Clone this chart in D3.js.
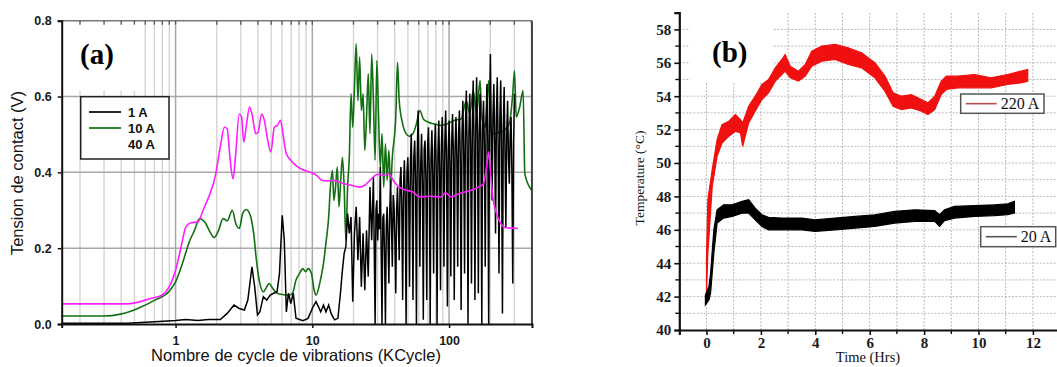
<!DOCTYPE html>
<html><head><meta charset="utf-8">
<script src="https://cdn.jsdelivr.net/npm/d3@7"></script>
<style>
html,body{margin:0;padding:0;background:#fff;}
svg{display:block;}
</style></head>
<body>
<svg id="chart" width="1057" height="367"></svg>
<script>
// ---------- Panel (a) data: Tension de contact (V) vs KCycle ----------
const aXTicks = [1, 10, 100];
const aYTicks = [0.0, 0.2, 0.4, 0.6, 0.8];
const aLegend = ["1 A", "10 A", "40 A"];

const magX = [0.146,0.444,0.667,0.793,0.891,1.0,1.091,1.19,1.298,1.457,1.59,1.785,1.946,2.123,2.276,2.385,2.497,2.631,2.740,2.921,3.041,3.148,3.280,3.475,3.640,3.857,4.017,4.256,4.458,4.723,4.976,5.273,5.555,5.852,6.095,6.458,6.963,7.596,8.527,9.575,10.75,11.73,12.79,13.95,15.22,17.09,19.19,22.18,24.19,26.39,28.79,30.51,33.28,36.30,39.59,43.19,48.50,54.46,61.15,72.76,86.58,94.44,103.0,115.6,129.8,145.8,163.7,178.6,189.2,194.8,200.5,208.8,218.7,238.6,260.2,318.8];
const magY = [0.053,0.053,0.068,0.076,0.096,0.142,0.199,0.256,0.267,0.269,0.300,0.344,0.388,0.467,0.519,0.515,0.440,0.383,0.440,0.554,0.546,0.480,0.519,0.572,0.550,0.502,0.506,0.554,0.537,0.484,0.454,0.519,0.524,0.537,0.502,0.449,0.432,0.418,0.407,0.401,0.392,0.379,0.377,0.379,0.376,0.370,0.366,0.361,0.366,0.379,0.392,0.395,0.392,0.396,0.375,0.361,0.353,0.348,0.335,0.337,0.335,0.346,0.335,0.342,0.348,0.353,0.361,0.370,0.423,0.454,0.405,0.335,0.300,0.265,0.254,0.252];

const grnX = [0.146,0.296,0.396,0.529,0.706,0.891,1.0,1.123,1.261,1.375,1.5,1.636,1.785,1.913,2.063,2.224,2.385,2.601,2.756,2.921,3.094,3.280,3.516,3.725,3.902,4.135,4.381,4.642,4.834,5.123,5.523,6.025,6.764,7.168,7.596,8.049,8.527,8.931,9.302,9.856,10.32,10.63,11.39,12.07,12.65,13.17,13.56,14.04,14.37,14.78,15.22,15.67,16.13,16.60,17.09,17.59,18.11,18.64,19.19,19.75,20.33,20.93,21.55,22.18,22.83,23.50,24.19,24.91,25.64,26.39,27.17,27.97,28.79,29.63,30.51,31.40,32.33,33.28,34.25,35.26,36.30,37.37,38.46,40.76,41.96,43.19,45.77,48.50,51.39,54.46,57.71,61.15,64.80,70.68,77.10,86.58,97.22,109.1,122.5,133.7,141.6,150.1,159.0,168.5,173.5,183.8,194.8,200.5,212.5,231.7,252.8,275.8,292.2,300.8,309.7,328.2,347.8,358.0,401.7];
const grnY = [0.021,0.021,0.026,0.041,0.063,0.085,0.111,0.160,0.217,0.247,0.278,0.269,0.243,0.228,0.247,0.278,0.272,0.300,0.265,0.252,0.291,0.302,0.287,0.239,0.168,0.107,0.085,0.098,0.107,0.094,0.081,0.078,0.076,0.081,0.116,0.133,0.146,0.138,0.146,0.133,0.089,0.076,0.111,0.160,0.221,0.282,0.361,0.405,0.326,0.361,0.414,0.309,0.379,0.440,0.361,0.221,0.361,0.440,0.607,0.519,0.625,0.739,0.589,0.704,0.563,0.607,0.458,0.546,0.660,0.502,0.712,0.589,0.432,0.695,0.546,0.414,0.502,0.361,0.475,0.379,0.458,0.361,0.440,0.546,0.690,0.589,0.528,0.502,0.495,0.502,0.528,0.563,0.541,0.532,0.528,0.524,0.528,0.537,0.541,0.589,0.554,0.616,0.554,0.642,0.546,0.519,0.642,0.511,0.502,0.506,0.511,0.528,0.607,0.668,0.546,0.572,0.616,0.396,0.353];

const blkX = [0.146,0.444,0.706,1.0,1.19,1.457,1.734,2.123,2.385,2.677,2.921,3.185,3.376,3.619,3.790,3.970,4.135,4.381,4.642,4.919,5.212,5.523,5.751,6.025,6.237,6.458,6.686,6.963,7.252,7.596,8.527,9.302,10.15,10.63,11.07,11.52,12.07,12.57,13.17,13.71,14.53,15.39,16.13,16.60,17.09,17.59,18.11,18.64,19.19,19.75,20.33,20.93,21.55,22.18,22.83,23.50,24.19,24.91,25.64,26.39,27.17,27.97,
  28.79,29.21,29.63,30.07,30.51,30.95,31.40,31.86,32.33,32.80,33.28,33.76,34.25,34.75,35.26,35.77,36.30,36.83,37.37,37.91,38.46,39.02,39.59,40.17,40.76,41.35,41.96,42.57,43.19,43.82,44.46,45.11,45.77,46.43,47.11,47.80,48.50,49.20,49.92,50.65,51.39,52.14,52.90,53.67,54.46,55.25,56.06,56.88,57.71,58.55,59.40,60.27,61.15,62.04,62.95,63.87,64.80,65.75,66.70,67.68,68.66,69.66,70.68,71.71,72.76,73.82,74.90,76.00,77.10,78.23,79.37,80.53,81.70,82.90,84.10,85.33,86.58,87.84,89.12,90.42,91.74,93.08,94.44,95.82,97.22,98.65,100.1,101.5,103.0,104.5,106.0,107.6,109.1,110.7,112.3,114.0,115.6,117.3,119.0,120.7,122.5,124.3,126.1,128.0,129.8,131.7,133.7,135.6,137.6,139.6,141.6,143.7,145.8,148.0,150.1,152.3,154.5,156.8,159.0,161.4,163.7,166.1,168.5,171.0,173.5,176.0,178.6,181.2,183.8,186.5,189.2,192.0,194.8,197.6,200.5,203.4,206.4,209.4,212.5,215.6,218.7,221.9,225.1,228.4,231.7,235.1,238.6,242.1,245.6,249.2,252.8,256.5,260.2,264.0,267.9,271.8,275.8,279.8,283.9,288.0,292.2,296.5,300.8];
const blkY = [0.002,0.002,0.006,0.009,0.012,0.009,0.012,0.012,0.028,0.050,0.041,0.037,0.063,0.151,0.098,0.024,0.032,0.072,0.063,0.076,0.081,0.085,0.133,0.287,0.221,0.032,0.081,0.054,0.081,0.015,0.009,0.015,0.046,0.059,0.046,0.032,0.050,0.032,0.050,0.028,0.011,0.015,0.089,0.142,0.186,0.204,0.291,0.239,0.282,0.059,0.239,0.309,0.168,0.282,0.098,0.239,0.089,0.247,0.125,0.361,0.221,0.388,
  0,0.30,0.326,0.22,0.291,0.25,0.414,0.20,0,0.28,0.291,0.18,0,0.26,0.309,0.22,0.107,0.30,0.379,0.26,0.151,0.34,0.309,0.22,0.081,0.30,0.361,0.27,0.168,0.38,0.414,0.30,0.063,0.36,0.432,0.33,0,0.40,0.440,0.35,0.098,0.42,0.502,0.36,0.063,0.44,0.484,0.38,0,0.45,0.563,0.40,0.151,0.42,0.502,0.37,0.011,0.46,0.484,0.38,0.063,0.47,0.519,0.40,0,0.44,0.511,0.39,0.133,0.46,0.528,0.41,0,0.45,0.537,0.40,0.089,0.47,0.546,0.42,0.151,0.48,0.563,0.43,0.046,0.46,0.537,0.42,0.125,0.48,0.554,0.44,0.063,0.47,0.546,0.43,0.151,0.50,0.563,0.44,0.037,0.50,0.589,0.45,0.133,0.52,0.616,0.46,0,0.50,0.607,0.47,0.107,0.53,0.642,0.48,0.063,0.52,0.651,0.49,0.081,0.50,0.607,0.46,0,0.52,0.589,0.47,0.151,0.53,0.633,0.48,0,0.55,0.712,0.50,0.326,0.55,0.633,0.48,0.239,0.55,0.651,0.47,0.133,0.54,0.642,0.46,0.028,0.52,0.625,0.45,0.256,0.50,0.589,0.44,0.370,0.50,0.546,0.40,0.107,0.48,0.607];

// ---------- Panel (b) data: Temperature (°C) vs Time (Hrs) ----------
const bXTicks = [0, 2, 4, 6, 8, 10, 12];
const bYTicks = [40, 42, 44, 46, 48, 50, 52, 54, 56, 58];
const bLegend = ["220 A", "20 A"];

const redT  = [0,0.05,0.21,0.39,0.57,0.82,1.06,1.25,1.33,1.55,1.79,2.04,2.28,2.53,2.77,2.89,3.08,3.38,3.63,3.87,4.24,4.73,5.21,5.70,6.19,6.56,6.86,7.17,7.53,7.90,8.14,8.39,8.63,8.82,9.24,9.85,10.46,11.07,11.56,11.81];
const redHi = [44.4,47.8,49.6,51.4,52.3,52.5,52.9,52.6,52.4,53.4,54.0,54.7,55.0,55.7,56.2,56.5,55.8,55.5,55.9,56.7,57.0,57.1,56.9,56.6,56.0,55.2,54.2,54.0,54.1,53.8,53.6,54.0,54.9,55.2,55.2,55.3,55.1,55.3,55.5,55.6];
const redLo = [42.2,44.6,48.6,50.4,51.2,51.6,51.9,51.8,51.0,52.4,53.1,53.8,54.2,54.9,55.3,55.5,55.1,54.9,55.2,55.8,56.1,56.2,55.9,55.7,55.1,54.3,53.4,53.2,53.3,53.1,52.9,53.2,54.1,54.4,54.5,54.5,54.5,54.7,54.8,54.9];

const blkT  = [-0.04,0.09,0.15,0.27,0.39,0.63,0.94,1.31,1.55,1.79,2.04,2.28,2.77,3.50,3.99,4.73,5.46,6.19,6.92,7.66,8.39,8.57,8.75,9.12,9.85,10.59,11.07,11.32];
const blkHi = [42.1,42.6,43.4,46.0,47.2,47.5,47.5,47.7,47.8,47.3,46.9,46.75,46.7,46.7,46.6,46.7,46.8,46.9,47.1,47.2,47.15,46.9,47.2,47.4,47.45,47.5,47.55,47.7];
const blkLo = [41.5,41.8,42.2,44.6,46.4,46.7,46.8,47.0,47.0,46.6,46.2,46.0,46.0,46.0,45.9,46.0,46.1,46.2,46.4,46.5,46.5,46.2,46.55,46.7,46.8,46.85,46.9,47.0];

// ================== drawing ==================
const svg = d3.select("#chart");
const SANS = "'Liberation Sans', Arial, sans-serif";
const SERIF = "'Liberation Serif', 'Times New Roman', serif";

// ----- Panel (a) -----
const ax = d3.scaleLog().domain([0.147, 404]).range([61.7, 532]);
const ay = d3.scaleLinear().domain([0, 0.8]).range([324, 20.7]);
const ga = svg.append("g");

const minorX = [];
[0.1, 1, 10, 100].forEach(d => { for (let k = 2; k <= 9; k++) { const v = d * k; if (v > 0.147 && v < 404) minorX.push(v); } });
ga.append("g").selectAll("line").data(minorX).join("line")
  .attr("x1", d => ax(d)).attr("x2", d => ax(d)).attr("y1", ay(0)).attr("y2", ay(0.8))
  .attr("stroke", "#d4d4d4").attr("stroke-width", 1.4);
ga.append("g").selectAll("line").data(aXTicks).join("line")
  .attr("x1", d => ax(d)).attr("x2", d => ax(d)).attr("y1", ay(0)).attr("y2", ay(0.8))
  .attr("stroke", "#a8a8a8").attr("stroke-width", 1.5);
ga.append("g").selectAll("line").data([0.2, 0.4, 0.6]).join("line")
  .attr("x1", ax.range()[0]).attr("x2", ax.range()[1]).attr("y1", d => ay(d)).attr("y2", d => ay(d))
  .attr("stroke", "#a8a8a8").attr("stroke-width", 1.5);

ga.append("rect").attr("x", ax.range()[0] + 1).attr("y", ay(0.8) + 2).attr("width", 78).attr("height", 68).attr("fill", "#fff");
ga.append("text").attr("x", 80).attr("y", 64).text("(a)")
  .attr("font-family", SERIF).attr("font-weight", "bold").attr("font-size", 29).attr("fill", "#000");

const lineA = d3.line().x(d => ax(d[0])).y(d => ay(d[1]));
const lineSmooth = d3.line().x(d => ax(d[0])).y(d => ay(d[1])).curve(d3.curveMonotoneX);
ga.append("path").datum(d3.zip(grnX, grnY)).attr("d", lineSmooth).attr("fill", "none")
  .attr("stroke", "#127012").attr("stroke-width", 1.6);
ga.append("path").datum(d3.zip(blkX, blkY)).attr("d", lineA).attr("fill", "none")
  .attr("stroke", "#000").attr("stroke-width", 1.5);
ga.append("path").datum(d3.zip(magX, magY)).attr("d", lineSmooth).attr("fill", "none")
  .attr("stroke", "#ff1eff").attr("stroke-width", 1.6);

ga.append("line").attr("x1", ax.range()[0]).attr("x2", ax.range()[1]).attr("y1", ay(0.8)).attr("y2", ay(0.8)).attr("stroke", "#777").attr("stroke-width", 1.5);
ga.append("line").attr("x1", ax.range()[1]).attr("x2", ax.range()[1]).attr("y1", ay(0.8)).attr("y2", ay(0)).attr("stroke", "#111").attr("stroke-width", 1.5);

const axL = d3.axisLeft(ay).tickValues(aYTicks).tickFormat(d3.format(".1f")).tickSize(4).tickPadding(6);
const gyA = ga.append("g").attr("transform", `translate(${ax.range()[0]},0)`).call(axL);
const axB = d3.axisBottom(ax).tickValues(aXTicks).tickFormat(d3.format("d")).tickSize(4).tickPadding(8);
const gxA = ga.append("g").attr("transform", `translate(0,${ay(0)})`).call(axB);
[gyA, gxA].forEach(g => {
  g.select(".domain").attr("stroke", "#111").attr("stroke-width", 2);
  g.selectAll(".tick line").attr("stroke", "#111").attr("stroke-width", 1.5);
  g.selectAll(".tick text").attr("font-family", SANS).attr("font-weight", "bold").attr("font-size", 12.5).attr("fill", "#1a1a1a");
});
ga.append("g").selectAll("line").data(minorX.concat(aXTicks)).join("line")
  .attr("x1", d => ax(d)).attr("x2", d => ax(d)).attr("y1", ay(0.8)).attr("y2", ay(0.8) + 4)
  .attr("stroke", "#555").attr("stroke-width", 1.3);

ga.append("text").attr("x", 296).attr("y", 361).attr("text-anchor", "middle")
  .attr("font-family", SANS).attr("font-size", 16.5).attr("fill", "#111").text("Nombre de cycle de vibrations (KCycle)");
ga.append("text").attr("transform", "translate(23,173) rotate(-90)").attr("text-anchor", "middle")
  .attr("font-family", SANS).attr("font-size", 16.5).attr("fill", "#111").text("Tension de contact (V)");

const lgA = ga.append("g");
lgA.append("rect").attr("x", 80.7).attr("y", 96.7).attr("width", 88.3).attr("height", 62.3)
  .attr("fill", "#fff").attr("stroke", "#222").attr("stroke-width", 1.5);
const lgColors = ["#000", "#127012", null];
aLegend.forEach((t, i) => {
  const yy = 112 + i * 16;
  if (lgColors[i]) lgA.append("line").attr("x1", 89).attr("x2", 121).attr("y1", yy).attr("y2", yy).attr("stroke", lgColors[i]).attr("stroke-width", 1.7);
  lgA.append("text").attr("x", 128).attr("y", yy + 5).text(t)
    .attr("font-family", SANS).attr("font-weight", "bold").attr("font-size", 13).attr("fill", "#111");
});

// ----- Panel (b) -----
const bx = d3.scaleLinear().domain([-1, 13]).range([679.3, 1060.1]);
const by = d3.scaleLinear().domain([40, 59]).range([330, 12.7]);
const gb = svg.append("g");

gb.append("g").selectAll("line").data(d3.range(41, 59)).join("line")
  .attr("x1", bx(-1)).attr("x2", 1057).attr("y1", d => by(d)).attr("y2", d => by(d))
  .attr("stroke", "#b8b8b8").attr("stroke-width", 1).attr("stroke-dasharray", "2,1.5");
gb.append("g").selectAll("line").data(d3.range(0, 13)).join("line")
  .attr("x1", d => bx(d)).attr("x2", d => bx(d)).attr("y1", by(40)).attr("y2", by(59))
  .attr("stroke", "#b8b8b8").attr("stroke-width", 1).attr("stroke-dasharray", "2,1.5");

gb.append("rect").attr("x", 690).attr("y", 0).attr("width", 83).attr("height", 82).attr("fill", "#fff");

const areaB = d3.area().x(d => bx(d[0])).y0(d => by(d[1])).y1(d => by(d[2]));
gb.append("path").datum(d3.zip(redT, redLo, redHi)).attr("d", areaB)
  .attr("fill", "#f01010").attr("stroke", "#f01010").attr("stroke-width", 1.2);
gb.append("path").datum(d3.zip(blkT, blkLo, blkHi)).attr("d", areaB)
  .attr("fill", "#000").attr("stroke", "#000").attr("stroke-width", 1.2);

gb.append("text").attr("x", 712).attr("y", 62).text("(b)")
  .attr("font-family", SERIF).attr("font-weight", "bold").attr("font-size", 29).attr("fill", "#000");

const byAxis = d3.axisLeft(by).tickValues(bYTicks).tickSize(5).tickPadding(3);
const gyB = gb.append("g").attr("transform", `translate(${bx(-1)},0)`).call(byAxis);
const bxAxis = d3.axisBottom(bx).tickValues(bXTicks).tickSize(5).tickPadding(2);
const gxB = gb.append("g").attr("transform", `translate(0,${by(40)})`).call(bxAxis);
[gyB, gxB].forEach(g => {
  g.select(".domain").attr("stroke", "#111").attr("stroke-width", 2.2);
  g.selectAll(".tick line").attr("stroke", "#111").attr("stroke-width", 1.6);
  g.selectAll(".tick text").attr("font-family", SERIF).attr("font-weight", "bold").attr("font-size", 15).attr("fill", "#1a1a1a");
});
gb.append("g").selectAll("line").data(d3.range(41, 59, 2)).join("line")
  .attr("x1", bx(-1) - 4).attr("x2", bx(-1)).attr("y1", d => by(d)).attr("y2", d => by(d)).attr("stroke", "#111").attr("stroke-width", 1.4);
gb.append("g").selectAll("line").data(d3.range(1, 13, 2)).join("line")
  .attr("x1", d => bx(d)).attr("x2", d => bx(d)).attr("y1", by(40)).attr("y2", by(40) + 4).attr("stroke", "#111").attr("stroke-width", 1.4);

gb.append("text").attr("x", 868).attr("y", 362).attr("text-anchor", "middle")
  .attr("font-family", SERIF).attr("font-size", 14.5).attr("fill", "#111").text("Time (Hrs)");
gb.append("text").attr("transform", "translate(644,178) rotate(-90)").attr("text-anchor", "middle")
  .attr("font-family", SERIF).attr("font-size", 13.5).attr("fill", "#111").text("Temperature (°C)");

const lgB = [
  { x: 960.7, y: 94, w: 83.3, h: 19.3, color: "#b85050", text: bLegend[0] },
  { x: 980.7, y: 226.7, w: 75, h: 20, color: "#555", text: bLegend[1] }
];
lgB.forEach(l => {
  gb.append("rect").attr("x", l.x).attr("y", l.y).attr("width", l.w).attr("height", l.h)
    .attr("fill", "#fff").attr("stroke", "#555").attr("stroke-width", 1.5);
  gb.append("line").attr("x1", l.x + 5).attr("x2", l.x + 36).attr("y1", l.y + l.h / 2).attr("y2", l.y + l.h / 2)
    .attr("stroke", l.color).attr("stroke-width", 1.6);
  gb.append("text").attr("x", l.x + 40).attr("y", l.y + l.h / 2 + 5.5).text(l.text)
    .attr("font-family", SERIF).attr("font-size", 16).attr("fill", "#111");
});
</script>
</body></html>
